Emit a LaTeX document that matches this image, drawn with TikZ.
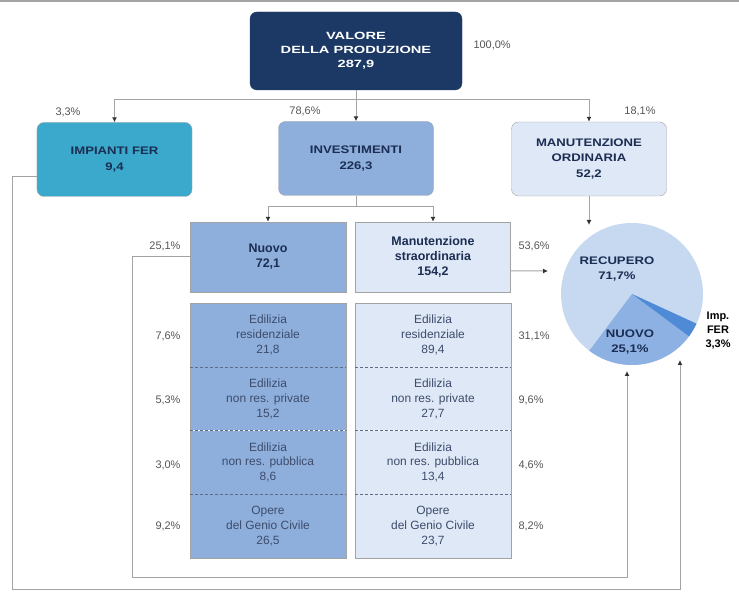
\documentclass[tikz,border=0pt]{standalone}
\usepackage{fontspec}
\setmainfont{Liberation Sans}
\newfontfamily\capsfont[FakeStretch=1.2]{Liberation Sans Bold}
\newfontfamily\headfont[FakeStretch=1.4]{Liberation Sans Bold}
\usetikzlibrary{arrows.meta}
\definecolor{navy}{HTML}{1C3966}
\definecolor{ink}{HTML}{1B2D52}
\definecolor{ferteal}{HTML}{3BA9CC}
\definecolor{midblue}{HTML}{8EAFDC}
\definecolor{paleblue}{HTML}{DFE8F6}
\definecolor{recfill}{HTML}{C6D9F1}
\definecolor{newfill}{HTML}{8DB1E2}
\definecolor{impfill}{HTML}{4F8AD6}
\definecolor{linegray}{HTML}{A3A3A3}
\definecolor{pctgray}{HTML}{555555}
\tikzset{
  link/.style={draw=linegray, line width=1bp},
  arr/.style={-{Latex[length=5bp,width=5bp,color=black!80]}},
  pct/.style={font=\fontsize{11}{13}\selectfont, text=pctgray},
  headbox/.style={rounded corners=7bp, minimum width=155bp, minimum height=74bp,
    align=center, text=ink, draw=linegray, font=\capsfont\fontsize{11}{16}\selectfont},
  subbox/.style={rectangle, draw=linegray, minimum width=155bp, minimum height=70bp,
    align=center, text=ink, font=\bfseries\fontsize{12.5}{15}\selectfont},
  cell/.style={rectangle, minimum width=155bp, minimum height=63.75bp, inner sep=0bp,
    align=center, text=ink!85, font=\fontsize{12}{15}\selectfont},
  sep/.style={draw=ink!70, dash pattern=on 3bp off 2bp, line width=0.8bp},
  pielabel/.style={align=center, text=ink, font=\capsfont\fontsize{11}{15}\selectfont},
}
\begin{document}
\begin{tikzpicture}[x=1bp,y=1bp]
  \useasboundingbox (0,0) rectangle (739,593);
  \draw[linegray, line width=2bp] (0,591.5) -- (739,591.5);
%%
  % Node: Valore
  \node[headbox, fill=navy, draw=navy, text=white, minimum width=212bp, minimum height=78bp,
    font=\headfont\fontsize{10.5}{14}\selectfont] (val) at (356,542)
    {VALORE\\DELLA PRODUZIONE\\287,9};
  \node[pct, anchor=west] at (470,548) {100,0\%};
  % Node: Impianti FER
  \node[headbox, fill=ferteal] (fer) at (114.5,433.5) {IMPIANTI FER\\9,4};
  \node[pct] at (68,481) {3,3\%};
  % Node: Investimenti
  \node[headbox, fill=midblue] (inv) at (356,434.5) {INVESTIMENTI\\226,3};
  \node[pct] at (305,482) {78,6\%};
  % Node: Manutenzione ordinaria
  \node[headbox, fill=paleblue] (mo) at (589,434) {MANUTENZIONE\\ORDINARIA\\52,2};
  \node[pct] at (640,482) {18,1\%};
  % Node: Nuovo
  \node[subbox, fill=midblue, minimum width=156bp] (nuovo) at (268,336) {Nuovo\\72,1};
  \node[pct, anchor=east] at (184,347) {25,1\%};
  % Node: Manutenzione straordinaria
  \node[subbox, fill=paleblue] (ms) at (433,336) {Manutenzione\\straordinaria\\154,2};
  \node[pct, anchor=west] at (515,347) {53,6\%};
  % Node: cells, Nuovo
  \node[cell, fill=midblue, minimum width=156bp] (nres) at (268,258.1) {Edilizia\\residenziale\\21,8};
  \node[cell, fill=midblue, minimum width=156bp] (npriv) at (268,194.4) {Edilizia\\non res. private\\15,2};
  \node[cell, fill=midblue, minimum width=156bp] (npub) at (268,130.6) {Edilizia\\non res. pubblica\\8,6};
  \node[cell, fill=midblue, minimum width=156bp] (nopere) at (268,66.9) {Opere\\del Genio Civile\\26,5};
  \draw[linegray] (nres.north west) rectangle (nopere.south east);
  \draw[sep] (nres.south west) -- (nres.south east);
  \draw[sep] (npriv.south west) -- (npriv.south east);
  \draw[sep] (npub.south west) -- (npub.south east);
  \node[pct, anchor=east] at (184,257) {7,6\%};
  \node[pct, anchor=east] at (184,193) {5,3\%};
  \node[pct, anchor=east] at (184,128) {3,0\%};
  \node[pct, anchor=east] at (184,67) {9,2\%};
  % Node: cells, Manutenzione straordinaria
  \node[cell, fill=paleblue] (mres) at (433,258.1) {Edilizia\\residenziale\\89,4};
  \node[cell, fill=paleblue] (mpriv) at (433,194.4) {Edilizia\\non res. private\\27,7};
  \node[cell, fill=paleblue] (mpub) at (433,130.6) {Edilizia\\non res. pubblica\\13,4};
  \node[cell, fill=paleblue] (mopere) at (433,66.9) {Opere\\del Genio Civile\\23,7};
  \draw[linegray] (mres.north west) rectangle (mopere.south east);
  \draw[sep] (mres.south west) -- (mres.south east);
  \draw[sep] (mpriv.south west) -- (mpriv.south east);
  \draw[sep] (mpub.south west) -- (mpub.south east);
  \node[pct, anchor=west] at (515,257) {31,1\%};
  \node[pct, anchor=west] at (515,193) {9,6\%};
  \node[pct, anchor=west] at (515,128) {4,6\%};
  \node[pct, anchor=west] at (515,67) {8,2\%};
  % Node: Pie
  \node[circle, fill=recfill, minimum size=142bp, inner sep=0bp] (pie) at (632,299) {};
  \fill[newfill] (pie.center) -- ++(233:71bp) arc (233:323.4:71bp) -- cycle;
  \fill[impfill] (pie.center) -- ++(323.4:71bp) arc (323.4:335.3:71bp) -- cycle;
  \node[pielabel] (rec) at (617,324) {RECUPERO\\71,7\%};
  \node[pielabel] (new) at (630,251) {NUOVO\\25,1\%};
  \node[pielabel, text=black, font=\bfseries\fontsize{11}{14}\selectfont] (imp) at (718,262) {Imp.\\FER\\3,3\%};
%%
  \coordinate (bus) at (356,493);
  \coordinate (split) at (356,386);
  \coordinate (moin) at (589,368);
  \coordinate (msin) at (548,322);
  \coordinate (newin) at (627,222);
  \coordinate (ferin) at (680,233);
  % Edge: Valore -> Impianti FER, Investimenti, Manutenzione ordinaria
  \draw[link] (val.south) -- (bus);
  \draw[link,arr] (bus) -| (fer.north);
  \draw[link,arr] (bus) -- (inv.north);
  \draw[link,arr] (bus) -| (mo.north);
  % Edge: Investimenti -> Nuovo, Manutenzione straordinaria
  \draw[link] (inv.south) -- (split);
  \draw[link,arr] (split) -| (nuovo.north);
  \draw[link,arr] (split) -| (ms.north);
  % Edge: Manutenzione ordinaria -> Pie
  \draw[link,arr] (mo.south) -- (moin);
  % Edge: Manutenzione straordinaria -> Pie
  \draw[link,arr] ([yshift=-14bp]ms.east) -- (msin);
  % Edge: Nuovo -> Pie
  \draw[link,arr] (nuovo.west) -| (132,15) -| (newin);
  % Edge: Impianti FER -> Pie
  \draw[link,arr] ([yshift=-17bp]fer.west) -| (12,3) -| (ferin);
%
\end{tikzpicture}
\end{document}
